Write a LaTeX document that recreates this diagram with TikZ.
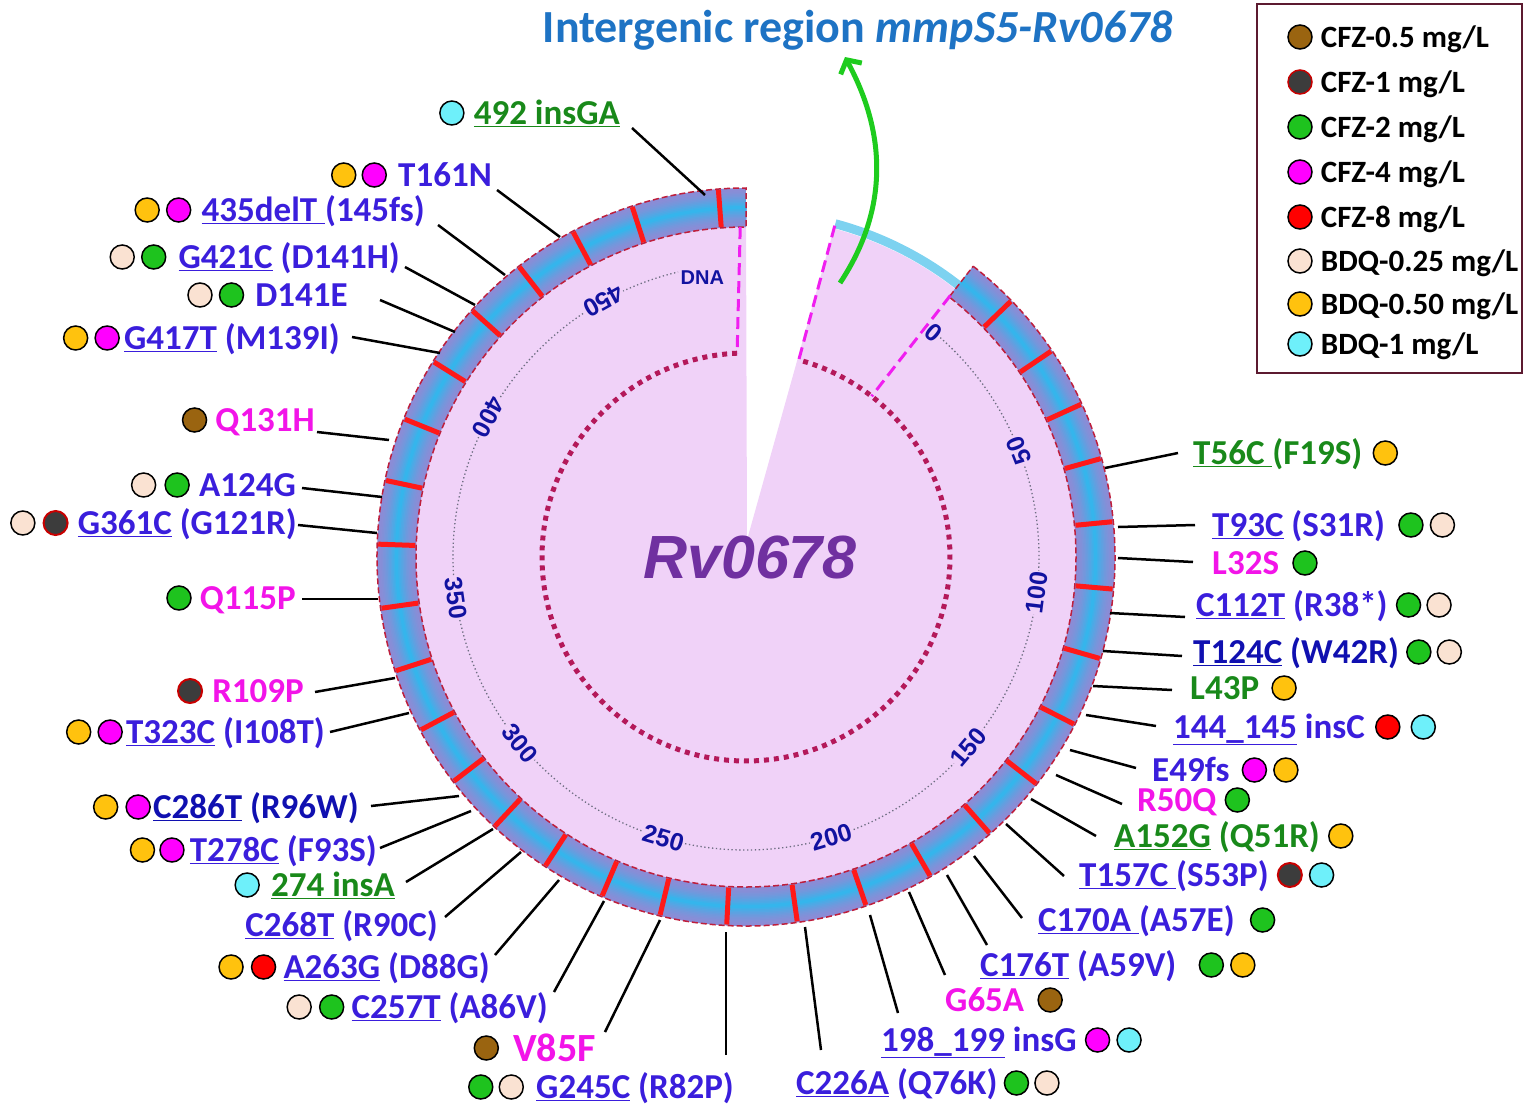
\documentclass[tikz,border=0pt]{standalone}
\usepackage{fontspec}
\setmainfont{Carlito}
\newfontfamily\arialf{Liberation Sans}
\usetikzlibrary{positioning, arrows.meta}

\definecolor{pinkbg}{RGB}{240,210,248}
\definecolor{peri}{RGB}{140,140,214}
\definecolor{sky}{RGB}{53,181,236}
\definecolor{lightsky}{RGB}{125,210,240}
\definecolor{ringred}{RGB}{190,30,60}
\definecolor{tickred}{RGB}{255,25,25}
\definecolor{dashmag}{RGB}{240,30,240}
\definecolor{dotmaroon}{RGB}{180,25,90}
\definecolor{axisgray}{RGB}{110,110,130}
\definecolor{mblue}{RGB}{58,30,220}
\definecolor{mnavy}{RGB}{16,16,176}
\definecolor{mgreen}{RGB}{25,137,26}
\definecolor{mmag}{RGB}{242,20,232}
\definecolor{scaleblue}{RGB}{18,18,160}
\definecolor{genepurple}{RGB}{112,48,160}
\definecolor{titleblue}{RGB}{30,115,196}
\definecolor{arrowgreen}{RGB}{30,204,30}
\definecolor{legframe}{RGB}{92,26,48}
\definecolor{cfzA}{RGB}{154,100,16}
\definecolor{cfzB}{RGB}{60,60,60}
\definecolor{cfzrim}{RGB}{200,0,0}
\definecolor{cfzC}{RGB}{30,195,30}
\definecolor{cfzD}{RGB}{255,0,255}
\definecolor{cfzE}{RGB}{255,0,0}
\definecolor{bdqA}{RGB}{250,226,210}
\definecolor{bdqB}{RGB}{255,194,14}
\definecolor{bdqC}{RGB}{110,240,250}

\begin{document}
\begin{tikzpicture}[x=1pt, y=-1pt,
    mut/.style={font=\bfseries\fontsize{35}{40}\selectfont, text=mblue, inner sep=0pt, text height=26pt, text depth=3.5pt},
    mutg/.style={mut, text=mgreen},
    mutm/.style={mut, text=mmag},
    mutn/.style={mut, text=mnavy},
    dot/.style={circle, draw=black, line width=1.5pt, minimum size=24pt, inner sep=0pt},
    cz05/.style={dot, fill=cfzA},
    cz1/.style={dot, fill=cfzB, draw=cfzrim, line width=2pt},
    cz2/.style={dot, fill=cfzC},
    cz4/.style={dot, fill=cfzD},
    cz8/.style={dot, fill=cfzE},
    bq025/.style={dot, fill=bdqA},
    bq05/.style={dot, fill=bdqB},
    bq1/.style={dot, fill=bdqC},
    conn/.style={line width=2.5pt, black},
    scalelab/.style={font=\arialf\bfseries\fontsize{25}{27}\selectfont, text=scaleblue, fill=pinkbg, inner sep=1pt},
    legtext/.style={font=\bfseries\fontsize{31}{34}\selectfont, inner sep=0pt, text height=23pt, text depth=3pt}]

\useasboundingbox (0,0) rectangle (1535,1114);

% gene map
\begin{scope}[shift={(746,557)}, y=1pt]
  \fill[pinkbg] (1,17) -- (90:340) arc[start angle=90, end angle=435, radius=340] -- cycle;
  \draw[lightsky, line width=9pt] (75:345) arc[start angle=75, end angle=52, radius=345];
  % ring, shaded in bands
  \foreach \i in {0,...,12} {
    \pgfmathsetmacro\w{39*(1-\i/13)}
    \pgfmathtruncatemacro\m{100*(\i/12)^1.6}
    \draw[line width=\w pt, draw=sky!\m!peri] (52:349.5) arc[start angle=52, end angle=-270, radius=349.5];
  }
  \draw[ringred, line width=1.5pt, dash pattern=on 6pt off 3pt] (52:369) arc[start angle=52, end angle=-270, radius=369]
    -- (-270:330) arc[start angle=-270, end angle=52, radius=330] -- cycle;
  \foreach \a in {44,34,24.5,15.5,5.5,-5,-16,-27,-38,-48.6,-60,-71,-82,-93,-103.5,-113,-123,-133,-142.5,-152,-162,-172,-182,-192,-202,-212,-222,-232,-242,-252,-265.7}
    \draw[tickred, line width=5pt] (\a:331) -- (\a:368);
  \draw[dotmaroon, line width=5pt, dash pattern=on 5pt off 5pt] (92.5:204) arc[start angle=92.5, end angle=435, radius=204];
  \draw[axisgray, line width=1.3pt, dash pattern=on 1.3pt off 2.6pt] (50:293) arc[start angle=50, end angle=-256.6, radius=293];
  \draw[dashmag, line width=3pt, dash pattern=on 12pt off 6pt] (75:343) -- (75:204);
  \draw[dashmag, line width=3pt, dash pattern=on 12pt off 6pt] (52:332) -- (52:204);
  \draw[dashmag, line width=3pt, dash pattern=on 12pt off 6pt] (91:330) -- (92.5:204);
  \foreach \p/\a in {0/50.1, 50/21.3, 100/-7, 150/-40.5, 200/-73.1, 250/-106.4, 300/-140.5, 350/-171.9, 400/-208.5, 450/-240.9}
    \node[scalelab, rotate=\a+90] (s\p) at (\a:293) {\p};
  \node[scalelab, font=\arialf\bfseries\fontsize{20}{22}\selectfont, anchor=west] (dna) at (103.4:287) {DNA};
\end{scope}

\node[font=\arialf\bfseries\itshape\fontsize{61}{64}\selectfont, text=genepurple] (gene) at (750,557) {Rv0678};

% connectors: tail at the label, end at the ring
\foreach \tx/\ty/\rx/\ry [count=\k] in {632/128/705/195, 497/190/560/237, 438/225/505/275, 405/267/475/305,
    380/300/455/332, 352/337/440/353, 317/432/389/440, 302/488/382/497, 298/525/377/533, 302/599/378/599,
    315/692/395/678, 330/732/409/713, 371/806/459/796, 380/848/471/811, 406/882/493/829, 445/917/521/852,
    495/955/559/880, 554/992/604/901, 605/1032/660/920, 726/1055/726/932, 821/1050/805/927, 898/1013/870/915,
    945/975/909/892, 987/945/947/875, 1022/918/974/856, 1064/876/1006/824, 1096/836/1031/799, 1122/804/1056/775,
    1136/768/1070/750, 1156/726/1086/715, 1172/690/1093/686, 1182/656/1103/651, 1185/617/1110/613,
    1193/562/1118/558, 1195/525/1118/527, 1178/453/1105/468}
  {
    \coordinate (tail\k) at (\tx,\ty);
    \coordinate (ring\k) at (\rx,\ry);
    \draw[conn] (tail\k) -- (ring\k);
  }

% left side
\node[mutg, anchor=east] (i492) at (620,113) {\underline{492 insGA}};
\node[bq1, left=9pt of i492] (i492a) {};
\node[mut, anchor=east] (t161) at (492,175) {T161N};
\node[cz4, left=11pt of t161] (t161a) {};
\node[bq05, left=5pt of t161a] (t161b) {};
\node[mut, anchor=east] (d435) at (425,210) {\underline{435delT\ }(145fs)};
\node[cz4, left=10pt of d435] (d435a) {};
\node[bq05, left=6pt of d435a] (d435b) {};
\node[mut, anchor=east] (g421) at (400,257) {\underline{G421C} (D141H)};
\node[cz2, left=12pt of g421] (g421a) {};
\node[bq025, left=6pt of g421a] (g421b) {};
\node[mut, anchor=east] (d141) at (348,295) {D141E};
\node[cz2, left=11pt of d141] (d141a) {};
\node[bq025, left=6pt of d141a] (d141b) {};
\node[mut, anchor=east] (g417) at (340,338) {\underline{G417T} (M139I)};
\node[cz4, left=4pt of g417] (g417a) {};
\node[bq05, left=6pt of g417a] (g417b) {};
\node[mutm, anchor=east] (q131) at (315,420) {Q131H};
\node[cz05, left=8pt of q131] (q131a) {};
\node[mut, anchor=east] (a124) at (296,485) {A124G};
\node[cz2, left=9pt of a124] (a124a) {};
\node[bq025, left=8pt of a124a] (a124b) {};
\node[mut, anchor=east] (g361) at (297,523) {\underline{G361C} (G121R)};
\node[cz1, left=9pt of g361] (g361a) {};
\node[bq025, left=7pt of g361a] (g361b) {};
\node[mutm, anchor=east] (q115) at (296,598) {Q115P};
\node[cz2, left=8pt of q115] (q115a) {};
\node[mutm, anchor=east] (r109) at (304,691) {R109P};
\node[cz1, left=9pt of r109] (r109a) {};
\node[mut, anchor=east] (t323) at (325,732) {\underline{T323C} (I108T)};
\node[cz4, left=3pt of t323] (t323a) {};
\node[bq05, left=6pt of t323a] (t323b) {};
\node[mutn, anchor=east] (c286) at (359,807) {\underline{C286T} (R96W)};
\node[cz4, left=2pt of c286] (c286a) {};
\node[bq05, left=7pt of c286a] (c286b) {};
\node[mut, anchor=east] (t278) at (377,850) {\underline{T278C} (F93S)};
\node[cz4, left=5pt of t278] (t278a) {};
\node[bq05, left=4pt of t278a] (t278b) {};
\node[mutg, anchor=east] (i274) at (395,885) {\underline{274 insA}};
\node[bq1, left=11pt of i274] (i274a) {};
\node[mut, anchor=east] (c268) at (438,925) {\underline{C268T} (R90C)};
\node[mut, anchor=east] (a263) at (490,967) {\underline{A263G} (D88G)};
\node[cz8, left=7pt of a263] (a263a) {};
\node[bq05, left=7pt of a263a] (a263b) {};
\node[mut, anchor=east] (c257) at (548,1007) {\underline{C257T} (A86V)};
\node[cz2, left=7pt of c257] (c257a) {};
\node[bq025, left=7pt of c257a] (c257b) {};
\node[mutm, anchor=east, font=\bfseries\fontsize{40}{44}\selectfont, text height=30pt, text depth=4pt] (v85) at (596,1048) {V85F};
\node[cz05, left=14pt of v85] (v85a) {};
\node[mut, anchor=east] (g245) at (734,1087) {\underline{G245C} (R82P)};
\node[bq025, left=12pt of g245] (g245a) {};
\node[cz2, left=5pt of g245a] (g245b) {};

% right side
\node[mut, anchor=west] (c226) at (796,1083) {\underline{C226A} (Q76K)};
\node[cz2, right=6pt of c226] (c226a) {};
\node[bq025, right=5pt of c226a] (c226b) {};
\node[mut, anchor=west] (i198) at (881,1040) {\underline{198\_199} insG};
\node[cz4, right=8pt of i198] (i198a) {};
\node[bq1, right=6pt of i198a] (i198b) {};
\node[mutm, anchor=west] (g65) at (945,1000) {G65A};
\node[cz05, right=13pt of g65] (g65a) {};
\node[mut, anchor=west] (c176) at (980,965) {\underline{C176T} (A59V)};
\node[cz2, right=22pt of c176] (c176a) {};
\node[bq05, right=6pt of c176a] (c176b) {};
\node[mut, anchor=west] (c170) at (1038,920) {\underline{C170A\ }(A57E)};
\node[cz2, right=15pt of c170] (c170a) {};
\node[mut, anchor=west] (t157) at (1079,875) {\underline{T157C\ }(S53P)};
\node[cz1, right=8pt of t157] (t157a) {};
\node[bq1, right=6pt of t157a] (t157b) {};
\node[mutg, anchor=west] (a152) at (1114,836) {\underline{A152G} (Q51R)};
\node[bq05, right=8pt of a152] (a152a) {};
\node[mutm, anchor=west] (r50) at (1137,800) {R50Q};
\node[cz2, right=8pt of r50] (r50a) {};
\node[mut, anchor=west] (e49) at (1152,770) {E49fs};
\node[cz4, right=12pt of e49] (e49a) {};
\node[bq05, right=6pt of e49a] (e49b) {};
\node[mut, anchor=west] (i144) at (1173,727) {\underline{144\_145} insC};
\node[cz8, right=10pt of i144] (i144a) {};
\node[bq1, right=10pt of i144a] (i144b) {};
\node[mutg, anchor=west] (l43) at (1190,688) {L43P};
\node[bq05, right=12pt of l43] (l43a) {};
\node[mutn, anchor=west] (t124) at (1193,652) {\underline{T124C} (W42R)};
\node[cz2, right=7pt of t124] (t124a) {};
\node[bq025, right=5pt of t124a] (t124b) {};
\node[mut, anchor=west] (c112) at (1196,605) {\underline{C112T} (R38*)};
\node[cz2, right=8pt of c112] (c112a) {};
\node[bq025, right=5pt of c112a] (c112b) {};
\node[mutm, anchor=west] (l32) at (1212,563) {L32S};
\node[cz2, right=13pt of l32] (l32a) {};
\node[mut, anchor=west] (t93) at (1212,525) {\underline{T93C} (S31R)};
\node[cz2, right=13pt of t93] (t93a) {};
\node[bq025, right=6pt of t93a] (t93b) {};
\node[mutg, anchor=west] (t56) at (1193,453) {\underline{T56C\ }(F19S)};
\node[bq05, right=10pt of t56] (t56a) {};

% legend
\draw[legframe, line width=2pt] (1257,4) rectangle (1522,373);
\foreach \y/\c/\d/\t [count=\k] in {37/cfzA/black/{CFZ-0.5 mg/L}, 82/cfzB/cfzrim/{CFZ-1 mg/L},
    127/cfzC/black/{CFZ-2 mg/L}, 172/cfzD/black/{CFZ-4 mg/L}, 217/cfzE/black/{CFZ-8 mg/L},
    261/bdqA/black/{BDQ-0.25 mg/L}, 304/bdqB/black/{BDQ-0.50 mg/L}, 344/bdqC/black/{BDQ-1 mg/L}}
  {
    \node[dot, fill=\c, draw=\d] (key\k) at (1300,\y) {};
    \node[legtext, right=8pt of key\k] (keytext\k) {\t};
  }

% intergenic region
\node[font=\bfseries\fontsize{46}{50}\selectfont, text=titleblue] (title) at (858,30) {Intergenic region \textit{mmpS5-Rv0678}};
\coordinate (igfoot) at (840,283);
\coordinate (igtip) at (845,57);
\draw[arrowgreen, line width=5pt, -{Straight Barb[length=10pt, width=24pt]}] (igfoot) .. controls (905,185) and (868,100) .. (igtip);
\end{tikzpicture}
\end{document}
